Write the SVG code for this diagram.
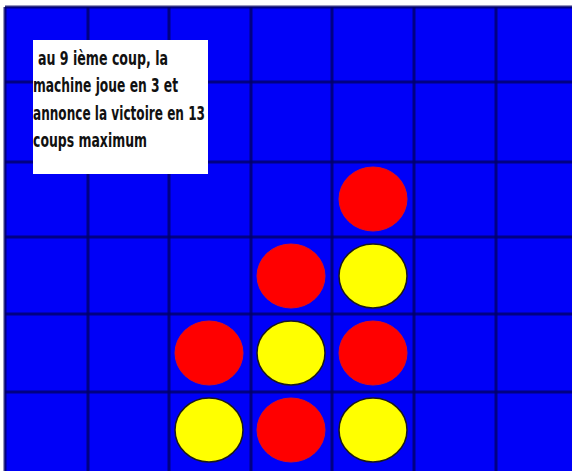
<svg xmlns="http://www.w3.org/2000/svg" width="572" height="471" viewBox="0 0 572 471">
<style>
.grid line{stroke:#000066;stroke-width:3;opacity:0.8}
.red{fill:#ff0000;stroke:#e0101a;stroke-width:1}
.yel{fill:#ffff00;stroke:#1a1a1a;stroke-width:1.5}
.txt{font-family:"DejaVu Sans Condensed","Liberation Sans Narrow","DejaVu Sans",sans-serif;font-weight:bold;font-size:19px;fill:#111}
</style>
<rect x="0" y="0" width="572" height="471" fill="#ffffff"/>
<rect id="board" x="5" y="7" width="567" height="464" fill="#0000f8"/>
<g id="connectors" class="grid">
<line x1="5" y1="7" x2="572" y2="7"/>
<line x1="5" y1="82" x2="572" y2="82"/>
<line x1="5" y1="162" x2="572" y2="162"/>
<line x1="5" y1="237" x2="572" y2="237"/>
<line x1="5" y1="314" x2="572" y2="314"/>
<line x1="5" y1="392" x2="572" y2="392"/>
<line x1="5" y1="7" x2="5" y2="471"/>
<line x1="88" y1="7" x2="88" y2="471"/>
<line x1="169" y1="7" x2="169" y2="471"/>
<line x1="251" y1="7" x2="251" y2="471"/>
<line x1="332" y1="7" x2="332" y2="471"/>
<line x1="414" y1="7" x2="414" y2="471"/>
<line x1="496" y1="7" x2="496" y2="471"/>
</g>
<g id="r1"><ellipse class="red" cx="373" cy="199" rx="34" ry="32"/></g>
<g id="r2"><ellipse class="red" cx="291" cy="276" rx="34" ry="32"/></g>
<g id="y1"><ellipse class="yel" cx="373" cy="276" rx="34" ry="32"/></g>
<g id="r3"><ellipse class="red" cx="209" cy="353" rx="34" ry="32"/></g>
<g id="y2"><ellipse class="yel" cx="291" cy="353" rx="34" ry="32"/></g>
<g id="r4"><ellipse class="red" cx="373" cy="353" rx="34" ry="32"/></g>
<g id="y3"><ellipse class="yel" cx="209" cy="430" rx="34" ry="32"/></g>
<g id="r5"><ellipse class="red" cx="291" cy="430" rx="34" ry="32"/></g>
<g id="y4"><ellipse class="yel" cx="373" cy="430" rx="34" ry="32"/></g>
<g id="note">
<rect x="33" y="40" width="175" height="134" fill="#ffffff"/>
<text class="txt" x="38" y="65" textLength="130" lengthAdjust="spacingAndGlyphs">au 9 ième coup, la</text>
<text class="txt" x="33" y="92" textLength="145" lengthAdjust="spacingAndGlyphs">machine joue en 3 et</text>
<text class="txt" x="33" y="120" textLength="172" lengthAdjust="spacingAndGlyphs">annonce la victoire en 13</text>
<text class="txt" x="33" y="147" textLength="114" lengthAdjust="spacingAndGlyphs">coups maximum</text>
</g>
</svg>
